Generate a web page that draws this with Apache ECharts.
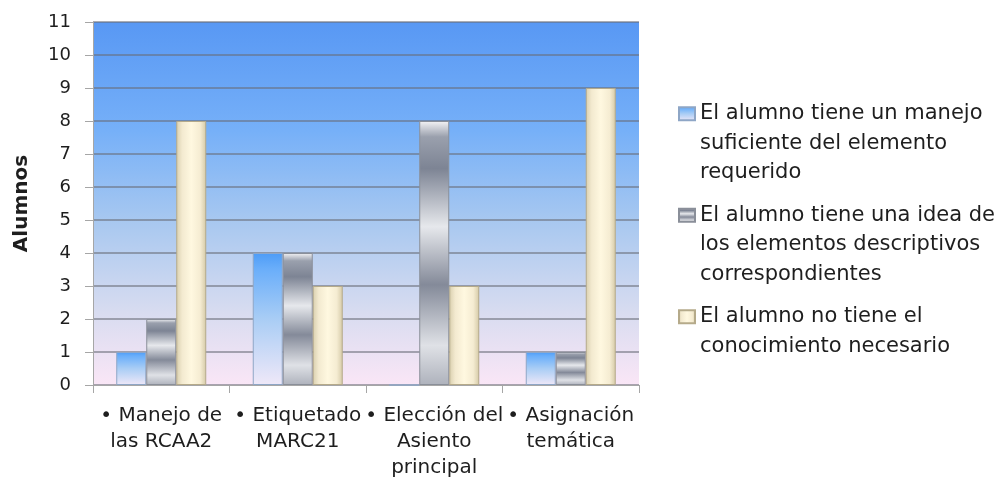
<!DOCTYPE html>
<html>
<head>
<meta charset="utf-8">
<script src="https://cdn.jsdelivr.net/npm/echarts@6/dist/echarts.min.js"></script>
<style>
html,body{margin:0;padding:0;background:#fff;}
#c{width:1008px;height:481px;}
</style>
</head>
<body>
<div id="c"></div>
<script>
const categories = ['• Manejo de\nlas RCAA2', '• Etiquetado\nMARC21', '• Elección del\nAsiento\nprincipal', '• Asignación\ntemática'];
const seriesNames = [
  'El alumno tiene un manejo suficiente del elemento requerido',
  'El alumno tiene una idea de los elementos descriptivos correspondientes',
  'El alumno no tiene el conocimiento necesario'
];
const legendLabels = [
  'El alumno tiene un manejo\nsuficiente del elemento\nrequerido',
  'El alumno tiene una idea de\nlos elementos descriptivos\ncorrespondientes',
  'El alumno no tiene el\nconocimiento necesario\n '
];
const suficiente = [1, 4, 0, 1];
const idea = [2, 4, 8, 1];
const noTiene = [8, 3, 3, 9];
const yTicks = [0, 1, 2, 3, 4, 5, 6, 7, 8, 9, 10, 11];

const FONT = 'DejaVu Sans';
const TXT = '#1e1e1e';

const chart = echarts.init(document.getElementById('c'), null, {renderer: 'canvas'});

function lg(stops, horiz) {
  return new echarts.graphic.LinearGradient(0, 0, horiz ? 1 : 0, horiz ? 0 : 1,
    stops.map(s => ({offset: s[0], color: s[1]})));
}

const blueFill = lg([[0, '#4d9cf7'], [0.12, '#6aaefa'], [0.5, '#a9cdf5'], [1, '#efe8f8']]);
const grayFill = lg([[0, '#f4f4f6'], [0.06, '#9aa0ad'], [0.18, '#7d8494'], [0.4, '#e6e8ec'], [0.62, '#848a99'], [0.85, '#dfe1e6'], [1, '#aeb2bc']]);
const creamFill = lg([[0, '#d9cfae'], [0.2, '#f3ead0'], [0.5, '#fff8e0'], [0.8, '#f5ecd2'], [1, '#d4c9a6']], true);

const bgFill = lg([[0, '#5898f4'], [0.3, '#76b0f8'], [0.55, '#a8c8f0'], [0.8, '#d8dcf0'], [1, '#fae6f6']]);

const names = seriesNames;
const option = {
  backgroundColor: '#ffffff',
  animation: false,
  textStyle: {fontFamily: FONT},
  grid: {left: 93, right: 369, top: 22, bottom: 94, show: true, backgroundColor: bgFill, borderWidth: 0},
  legend: {
    orient: 'vertical',
    left: 678,
    top: 40,
    padding: 0,
    itemWidth: 16,
    itemHeight: 13,
    itemGap: -46,
    icon: 'rect',
    data: names,
    formatter: function (n) { return '\n\n' + legendLabels[names.indexOf(n)]; },
    textStyle: {fontFamily: FONT, fontSize: 21, color: TXT, lineHeight: 29.5}
  },
  xAxis: {
    type: 'category',
    data: categories,
    axisLine: {lineStyle: {color: '#a6a6a6', width: 1}},
    axisTick: {show: true, length: 8, lineStyle: {color: '#a6a6a6'}},
    axisLabel: {fontFamily: FONT, fontSize: 20, color: TXT, lineHeight: 26, margin: 18, interval: 0}
  },
  yAxis: {
    type: 'value',
    min: 0, max: 11, interval: 1,
    name: 'Alumnos',
    nameLocation: 'middle',
    nameGap: 61,
    nameTextStyle: {fontFamily: FONT, fontSize: 20, fontWeight: 'bold', color: TXT},
    axisLine: {show: true, lineStyle: {color: '#a6a6a6'}},
    axisTick: {show: true, length: 8, lineStyle: {color: '#a6a6a6'}},
    axisLabel: {fontFamily: FONT, fontSize: 18, color: TXT, margin: 22,
      formatter: function (v) { return yTicks.indexOf(v) >= 0 ? String(v) : ''; }},
    splitLine: {show: true, lineStyle: {color: 'rgba(105,110,120,0.75)', width: 1.5}}
  },
  series: [
    {name: names[0], type: 'bar', data: suficiente, barWidth: 30, barGap: '0%',
     itemStyle: {color: blueFill, borderColor: '#8ea6c6', borderWidth: 1}},
    {name: names[1], type: 'bar', data: idea, barWidth: 30, barGap: '0%',
     itemStyle: {color: grayFill, borderColor: '#8a8f99', borderWidth: 1}},
    {name: names[2], type: 'bar', data: noTiene, barWidth: 30, barGap: '0%',
     itemStyle: {color: creamFill, borderColor: '#b5aa8a', borderWidth: 1}}
  ]
};
chart.setOption(option);
</script>
</body>
</html>
